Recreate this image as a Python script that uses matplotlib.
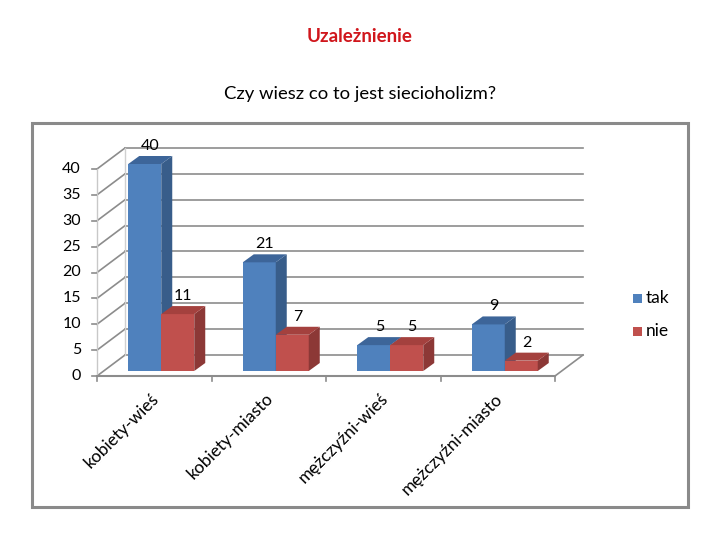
import matplotlib
matplotlib.use("Agg")
import matplotlib.pyplot as plt
from matplotlib.patches import Polygon, Rectangle
import numpy as np

categories = ["kobiety-wieś", "kobiety-miasto", "mężczyźni-wieś", "mężczyźni-miasto"]
series_names = ["tak", "nie"]
tak = [40, 21, 5, 9]
nie = [11, 7, 5, 2]
yticks = [0, 5, 10, 15, 20, 25, 30, 35, 40]

title_main = "Uzależnienie"
title_sub = "Czy wiesz co to jest siecioholizm?"

FONT = ["Lato", "DejaVu Sans"]
plt.rcParams["font.family"] = FONT

W, H = 720, 540
fig = plt.figure(figsize=(7.2, 5.4), dpi=100)

def fx(x):
    return x / W

def fy(y):
    return 1 - y / H

# outer frame
fig.patches.append(Rectangle((fx(32), fy(507)), fx(688) - fx(32), fy(123) - fy(507),
                             transform=fig.transFigure, fill=False,
                             edgecolor="#8a8a8a", linewidth=2.2))

fig.text(0.5, fy(37), title_main, color="#d0161c", fontsize=13.5, fontweight="bold",
         ha="center", va="center")
fig.text(0.5, fy(94), title_sub, color="black", fontsize=13.3,
         ha="center", va="center")

# axes: front floor edge from x=97..555 px, value 0 at y=376, value 40 at y=169
left_px, right_px = 97, 555
y0_px, y40_px = 376, 169
ax = fig.add_axes([fx(left_px), fy(y0_px), fx(right_px) - fx(left_px), fy(y40_px) - fy(y0_px)])
ax.set_xlim(0, len(categories))
ax.set_ylim(0, 40)
ax.axis("off")

px_x = len(categories) / (right_px - left_px)   # data units per pixel (x)
px_y = 40 / (y0_px - y40_px)                     # data units per pixel (y)

def off(dxp, dyp):
    return dxp * px_x, dyp * px_y

wall_dx, wall_dy = off(28, 21)
grid_c = "#8c8c8c"

# gridlines on side wall and back wall
for v in yticks:
    ax.plot([0, wall_dx], [v, v + wall_dy], color=grid_c, lw=1.2, clip_on=False, zorder=1)
    ax.plot([wall_dx, len(categories) + wall_dx], [v + wall_dy, v + wall_dy],
            color=grid_c, lw=1.2, clip_on=False, zorder=1)
    ax.plot([-5 * px_x, 0], [v, v], color=grid_c, lw=1.2, clip_on=False, zorder=1)
    ax.text(-16 * px_x, v, str(v), ha="right", va="center", fontsize=11.5,
            color="black")

# side wall edges
ax.plot([0, 0], [0, 40], color="#c8c8c8", lw=1.0, clip_on=False, zorder=1)
ax.plot([wall_dx, wall_dx], [wall_dy, 40 + wall_dy], color="#d0d0d0", lw=1.0, clip_on=False, zorder=1)

# floor front edge, right edge, ticks
ax.plot([0, len(categories)], [0, 0], color=grid_c, lw=1.5, clip_on=False, zorder=2)
ax.plot([len(categories), len(categories) + wall_dx], [0, wall_dy], color=grid_c, lw=1.2,
        clip_on=False, zorder=1)
for i in range(len(categories) + 1):
    ax.plot([i, i], [0, -5 * px_y], color=grid_c, lw=1.2, clip_on=False, zorder=2)

# 3D bars
bar_front_dx, bar_front_dy = off(7, 5)
bar_depth_dx, bar_depth_dy = off(11, 8)
bar_w = 33 * px_x

colors = {
    "tak": ("#4f81bd", "#385d8a", "#3d6599"),
    "nie": ("#c0504d", "#8c3836", "#a4413e"),
}

def draw_bar(xl, v, cols, z):
    front, side, top = cols
    x0 = xl + bar_front_dx
    y0 = bar_front_dy
    x1 = x0 + bar_w
    y1 = y0 + v
    ax.add_patch(Polygon([(x0, y0), (x1, y0), (x1, y1), (x0, y1)], closed=True,
                         facecolor=front, edgecolor="none", clip_on=False, zorder=z))
    ax.add_patch(Polygon([(x1, y0), (x1 + bar_depth_dx, y0 + bar_depth_dy),
                          (x1 + bar_depth_dx, y1 + bar_depth_dy), (x1, y1)], closed=True,
                         facecolor=side, edgecolor="none", clip_on=False, zorder=z))
    ax.add_patch(Polygon([(x0, y1), (x1, y1), (x1 + bar_depth_dx, y1 + bar_depth_dy),
                          (x0 + bar_depth_dx, y1 + bar_depth_dy)], closed=True,
                         facecolor=top, edgecolor="none", clip_on=False, zorder=z))
    ax.text(x0 + bar_w / 2 + bar_depth_dx / 2, y1 + bar_depth_dy + 3 * px_y, str(v),
            ha="center", va="bottom", fontsize=11.5, color="black", zorder=10)

for i, cat in enumerate(categories):
    center = i + 0.5
    draw_bar(center - bar_w, tak[i], colors["tak"], 3 + i * 2)
    draw_bar(center, nie[i], colors["nie"], 4 + i * 2)

# category labels
for i, cat in enumerate(categories):
    ax.text(i + 0.5 + 2 * px_x, -20 * px_y, cat, rotation=45, rotation_mode="anchor",
            ha="right", va="center", fontsize=12.5, color="black")

# legend
for j, (name, yp) in enumerate(zip(series_names, [298, 331])):
    fig.patches.append(Rectangle((fx(633), fy(yp) - 4.5 / H), 9 / W, 9 / H,
                                 transform=fig.transFigure, facecolor=colors[name][0],
                                 edgecolor="none"))
    fig.text(fx(646), fy(yp), name, ha="left", va="center", fontsize=12.5)

fig.savefig("out.png", dpi=100)
